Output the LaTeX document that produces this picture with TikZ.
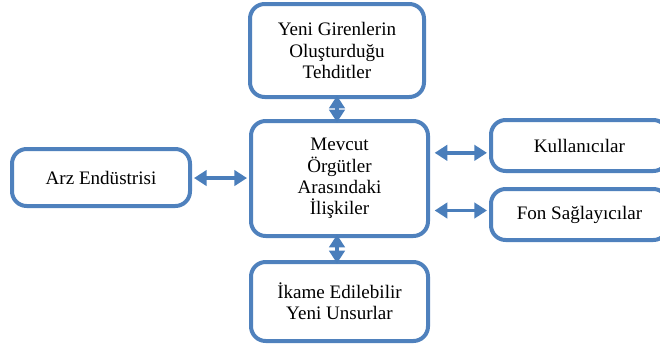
\documentclass[tikz,border=0pt]{standalone}
\usepackage{fontspec}
\setmainfont{Liberation Serif}
\usepackage{tikz}
\usetikzlibrary{arrows.meta}
\definecolor{myblue}{RGB}{79,129,189}
\definecolor{myarrow}{RGB}{74,126,187}

\begin{document}
\begin{tikzpicture}[x=0.75pt,y=-0.75pt]
	\useasboundingbox (0,0) rectangle (660,350);
	\begin{scope}[every node/.style={draw=myblue,fill=white,line width=3pt,rounded corners=11pt,
	              align=center,inner sep=2pt,font=\fontsize{14.3}{16}\selectfont}]
	    \node (Y) [minimum width=130.5pt,minimum height=69.75pt] at (337,50.5) {Yeni Girenlerin\\Oluşturduğu\\Tehditler};
	    \node (M) [minimum width=132.75pt,minimum height=86.25pt] at (339.5,178.5) {Mevcut\\Örgütler\\Arasındaki\\İlişkiler};
	    \node (I) [minimum width=132.75pt,minimum height=59.25pt] at (339.5,301.5) {İkame Edilebilir\\Yeni Unsurlar};
	    \node (Z) [minimum width=133.5pt,minimum height=42.75pt] at (101,177.5) {Arz Endüstrisi};
	    \node (K) [minimum width=132.75pt,minimum height=38.25pt] at (579.5,145.5) {Kullanıcılar};
	    \node (F) [minimum width=132.75pt,minimum height=38.25pt] at (579.5,214.5) {Fon Sağlayıcılar};
	\end{scope}

	\begin{scope}[>={Triangle[length=9.5pt,width=11.5pt]},
	              every edge/.style={draw=myarrow,line width=2.5pt}]
	    \path [<->,shorten <=-2.5pt,shorten >=-2.5pt] (Y.south) edge (Y.south |- M.north);
	    \path [<->,shorten <=-2.5pt,shorten >=-2.5pt] (M.south -| Y.south) edge (I.north -| Y.south);
	    \path [<->,shorten <=1.5pt,shorten >=1.5pt] ([yshift=-0.4pt]Z.east) edge ([yshift=-0.4pt]Z.east -| M.west);
	    \path [<->,shorten <=3.5pt,shorten >=1.5pt] ([yshift=-5.5pt]K.west -| M.east) edge ([yshift=-5.5pt]K.west);
	    \path [<->,shorten <=3.5pt,shorten >=1.5pt] ([yshift=3pt]F.west -| M.east) edge ([yshift=3pt]F.west);
	\end{scope}
\end{tikzpicture}
\end{document}
